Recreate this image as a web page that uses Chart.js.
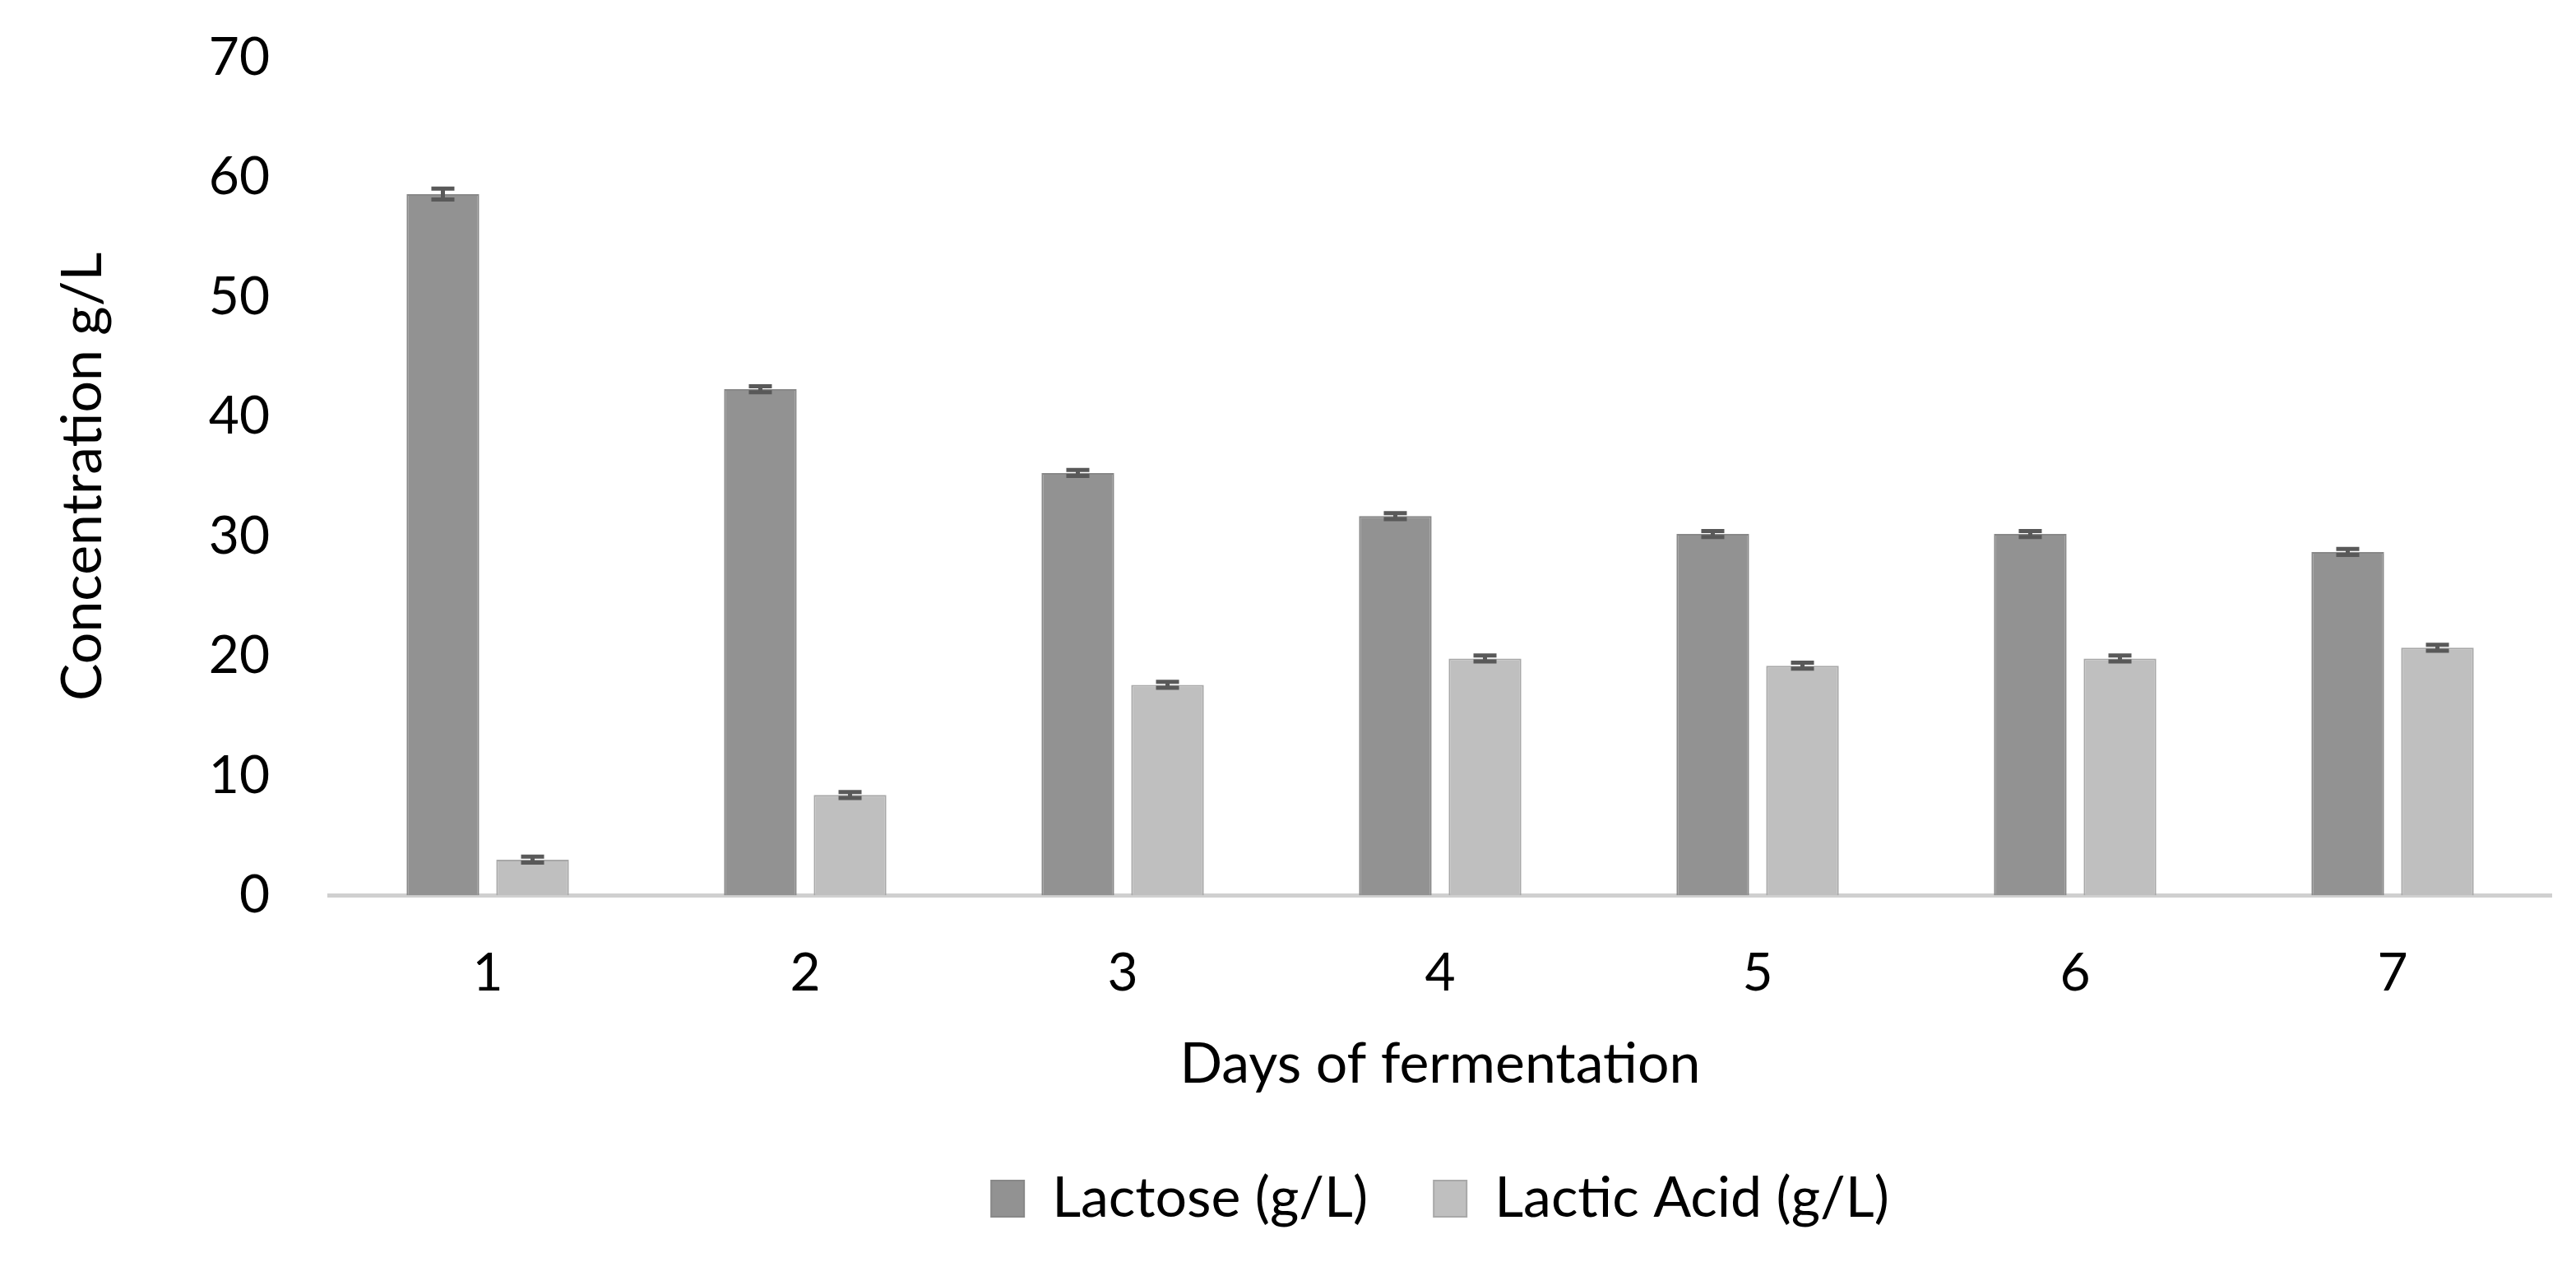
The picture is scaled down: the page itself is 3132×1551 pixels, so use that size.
<!DOCTYPE html>
<html>
<head>
<meta charset="utf-8">
<script src="https://cdn.jsdelivr.net/npm/chart.js@4.4.1/dist/chart.umd.min.js"></script>
<style>
  html, body { margin: 0; padding: 0; background: #fff; }
  #wrap { width: 3132px; height: 1551px; position: relative; }
</style>
</head>
<body>
<div id="wrap"><canvas id="chart"></canvas></div>
<script>
// Data
const days = ['1', '2', '3', '4', '5', '6', '7'];
const lactose = [58.6, 42.3, 35.3, 31.7, 30.2, 30.2, 28.7];
const lactoseErr = [0.45, 0.25, 0.25, 0.25, 0.25, 0.25, 0.25];
const lacticAcid = [3.0, 8.4, 17.6, 19.8, 19.2, 19.8, 20.7];
const lacticErr = [0.25, 0.25, 0.25, 0.25, 0.25, 0.25, 0.25];
const yTicks = [0, 10, 20, 30, 40, 50, 60, 70];

const FONT = 'Lato, "Open Sans", sans-serif';
const errors = [lactoseErr, lacticErr];

// Simple error bar plugin, drawn through the y scale
const errorBars = {
    id: 'errorBars',
    afterDatasetsDraw(chart) {
        const ctx = chart.ctx;
        const y = chart.scales.y;
        ctx.save();
        ctx.strokeStyle = '#595959';
        ctx.lineWidth = 5;
        chart.data.datasets.forEach((ds, i) => {
            const meta = chart.getDatasetMeta(i);
            meta.data.forEach((bar, j) => {
                const v = ds.data[j];
                const e = errors[i][j];
                const top = y.getPixelForValue(v + e);
                const bot = y.getPixelForValue(v - e);
                const half = 14;
                ctx.beginPath();
                ctx.moveTo(bar.x, top);
                ctx.lineTo(bar.x, bot);
                ctx.moveTo(bar.x - half, top);
                ctx.lineTo(bar.x + half, top);
                ctx.moveTo(bar.x - half, bot);
                ctx.lineTo(bar.x + half, bot);
                ctx.stroke();
            });
        });
        ctx.restore();
    }
};

new Chart(document.getElementById('chart'), {
    type: 'bar',
    data: {
        labels: days,
        datasets: [
            {
                label: 'Lactose (g/L)',
                data: lactose,
                backgroundColor: '#929292',
                borderColor: '#888888',
                borderWidth: 2,
                categoryPercentage: 0.565,
                barPercentage: 0.81
            },
            {
                label: 'Lactic Acid (g/L)',
                data: lacticAcid,
                backgroundColor: '#bfbfbf',
                borderColor: '#a8a8a8',
                borderWidth: 2,
                categoryPercentage: 0.565,
                barPercentage: 0.81
            }
        ]
    },
    options: {
        responsive: true,
        maintainAspectRatio: false,
        animation: false,
        layout: { padding: { top: 0, right: 30, bottom: 50, left: 0 } },
        plugins: {
            tooltip: { enabled: false },
            legend: {
                position: 'bottom',
                fullSize: false,
                labels: {
                    color: '#000',
                    font: { family: FONT, size: 68 },
                    boxWidth: 40,
                    boxHeight: 44,
                    padding: 80
                }
            }
        },
        scales: {
            x: {
                grid: { display: false },
                border: { display: true, color: '#d0d0d0', width: 5 },
                ticks: { color: '#000', font: { family: FONT, size: 64 }, padding: 48 },
                title: {
                    display: true,
                    text: 'Days of fermentation',
                    color: '#000',
                    font: { family: FONT, size: 68, lineHeight: 0.73 },
                    padding: { top: 0, bottom: 24 }
                }
            },
            y: {
                min: 0,
                max: 70,
                afterFit(scale) {
                    scale.width = 400;
                    scale.paddingTop = 70;
                },
                afterBuildTicks(scale) { scale.ticks = yTicks.map(v => ({ value: v })); },
                grid: { display: false },
                border: { display: false },
                ticks: { color: '#000', font: { family: FONT, size: 64 }, padding: 64 },
                title: {
                    display: true,
                    text: 'Concentration g/L',
                    color: '#000',
                    font: { family: FONT, size: 68 },
                    padding: { top: 60, bottom: 0 }
                }
            }
        }
    },
    plugins: [errorBars]
});
</script>
</body>
</html>
